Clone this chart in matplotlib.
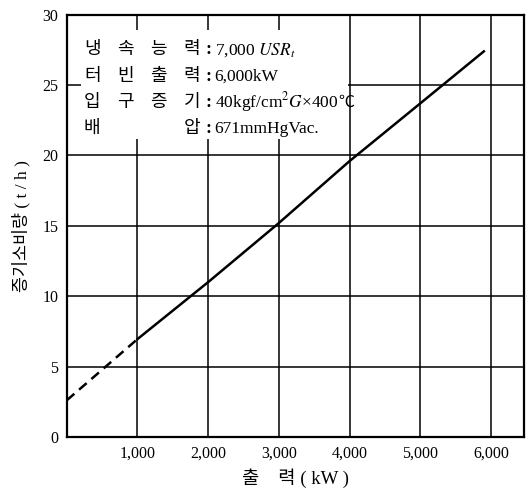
"""Steam consumption vs. turbine output chart (scan recreation)."""

import matplotlib
matplotlib.use("Agg")
import matplotlib.pyplot as plt
from matplotlib.patches import Rectangle

plt.rcParams["font.family"] = ["Liberation Serif", "Noto Sans CJK KR", "DejaVu Sans"]
plt.rcParams["mathtext.fontset"] = "stix"

# data
output_kw = [0, 1000, 2000, 3000, 4000, 5000, 5900]
steam_th = [2.6, 6.95, 11.0, 15.2, 19.6, 23.7, 27.4]
dashed_until = 1000

x_ticks = [1000, 2000, 3000, 4000, 5000, 6000]
x_ticklabels = ["1,000", "2,000", "3,000", "4,000", "5,000", "6,000"]
y_ticks = [0, 5, 10, 15, 20, 25, 30]

spec_labels = [["냉", "속", "능", "력"],
               ["터", "빈", "출", "력"],
               ["입", "구", "증", "기"],
               ["배", "", "", "압"]]
spec_values = ["7,000 $USR_t$",
               "6,000kW",
               "40kgf/cm$^2$$G$\u00d7400",
               "671mmHgVac."]
spec_suffix = ["", "", "\u2103", ""]

fig = plt.figure(figsize=(5.30, 4.92), dpi=100)
ax = fig.add_axes([0.126, 0.112, 0.863, 0.858])
ax.set_xlim(0, 6470)
ax.set_ylim(0, 30)

ax.set_xticks(x_ticks)
ax.set_xticklabels(x_ticklabels)
ax.set_yticks(y_ticks)
ax.tick_params(length=0, labelsize=11.5, pad=6)
ax.grid(True, color="black", linewidth=1.1)
ax.set_axisbelow(True)
for s in ax.spines.values():
    s.set_linewidth(1.6)

# dashed extrapolation, then the solid part
i = output_kw.index(dashed_until)
ax.plot(output_kw[:i + 1], steam_th[:i + 1], color="black", lw=1.8,
        dashes=(4, 2.5), zorder=3)
ax.plot(output_kw[i:], steam_th[i:], color="black", lw=1.8, zorder=3)

# white patch behind the spec block hides the grid
ax.add_patch(Rectangle((200, 21.2), 3780, 7.7, facecolor="white",
                       edgecolor="none", zorder=2))

row_y = [27.5, 25.6, 23.8, 21.9]
for y, chars, val, suf in zip(row_y, spec_labels, spec_values, spec_suffix):
    for k, ch in enumerate(chars):
        ax.text(360 + k * 470, y, ch, fontsize=13, ha="center",
                va="center", zorder=4)
    ax.text(2000, y, ":", fontsize=13, ha="center", va="center", zorder=4,
            fontweight="bold")
    t = ax.text(2090, y, val, fontsize=12.5, ha="left", va="center", zorder=4)
    if suf:
        ax.annotate(suf, xy=(1, 0.5), xycoords=t, fontsize=11.5,
                    ha="left", va="center", zorder=4,
                    family=["Noto Sans CJK KR", "DejaVu Sans"])

ax.set_xlabel("출    력 ( kW )", fontsize=13.5, labelpad=5)
ax.set_ylabel("증기소비량 ( t / h )", fontsize=12.5, labelpad=9)

fig.savefig("out.png", dpi=100)
